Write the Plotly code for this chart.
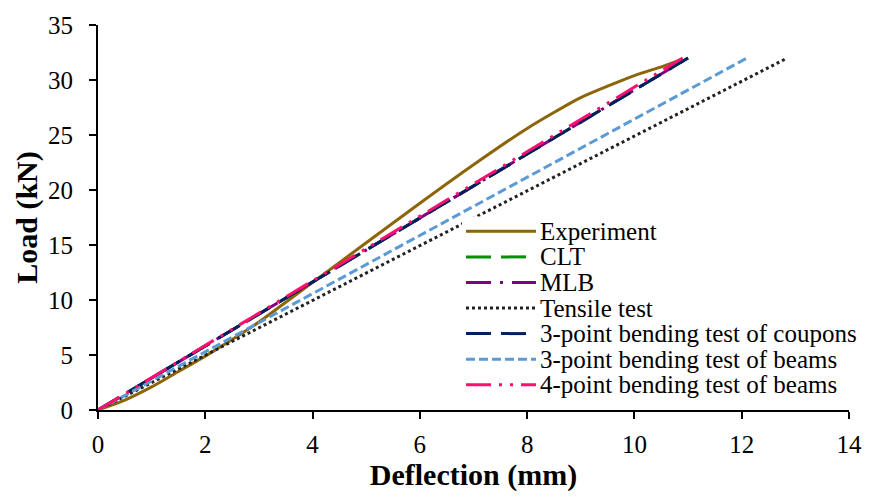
import plotly.graph_objects as go

# Load–deflection data (deflection in mm, load in kN)
exp_x = [0, 0.5, 1, 1.5, 2, 2.5, 3, 3.5, 4, 5, 6, 7, 8, 9, 10, 10.5, 10.9]
exp_y = [0, 0.9, 2.1, 3.5, 4.9, 6.4, 8.0, 9.8, 11.6, 15.2, 18.8, 22.3, 25.6, 28.4, 30.4, 31.2, 31.9]

clt_x = [0, 11.0]
clt_y = [0, 32.0]

mlb_x = [0, 11.0]
mlb_y = [0, 32.0]

tensile_x = [0, 12.85]
tensile_y = [0, 32.0]

coupons_x = [0, 11.0]
coupons_y = [0, 32.0]

beams3_x = [0, 12.1]
beams3_y = [0, 32.0]

beams4_x = [0, 10.9]
beams4_y = [0, 32.0]

x_ticks = [0, 2, 4, 6, 8, 10, 12, 14]
y_ticks = [0, 5, 10, 15, 20, 25, 30, 35]

series_names = [
    "Experiment",
    "CLT",
    "MLB",
    "Tensile test",
    "3-point bending test of coupons",
    "3-point bending test of beams",
    "4-point bending test of beams",
]
series_x = [exp_x, clt_x, mlb_x, tensile_x, coupons_x, beams3_x, beams4_x]
series_y = [exp_y, clt_y, mlb_y, tensile_y, coupons_y, beams3_y, beams4_y]
series_colors = ["#8B6508", "#009000", "#800080", "#222222", "#002060", "#5B9BD5", "#FF0F6E"]
series_dash = [
    "solid",
    "25px,10px",
    "25px,9px,3px,9px",
    "3px,3px",
    "25px,10px",
    "9px,4px",
    "25px,8px,3px,8px,3px,8px",
]
series_shape = ["spline", "linear", "linear", "linear", "linear", "linear", "linear"]

font_family = "Liberation Serif, Times New Roman, serif"

fig = go.Figure()
for name, xs, ys, color, dash, shp in zip(series_names, series_x, series_y,
                                          series_colors, series_dash, series_shape):
    fig.add_trace(go.Scatter(
        x=xs, y=ys, name=name, mode="lines", showlegend=False,
        line=dict(color=color, width=3, dash=dash, shape=shp, smoothing=0.6),
    ))

# Legend box drawn in paper coordinates: white panel, line samples, labels
plot_l, plot_r, plot_t, plot_b = 98, 849, 20, 410


def px_to_paper_x(px):
    return (px - plot_l) / (plot_r - plot_l)


def px_to_paper_y(py):
    return (plot_b - py) / (plot_b - plot_t)


leg_left, leg_right, leg_top, leg_bottom = 462, 874, 214, 399
row_y0, row_step = 229, 25.9
sample_x0, sample_x1, text_x = 466, 536, 539

shapes = [dict(
    type="rect", xref="paper", yref="paper", layer="above",
    x0=px_to_paper_x(leg_left), x1=px_to_paper_x(leg_right),
    y0=px_to_paper_y(leg_bottom), y1=px_to_paper_y(leg_top),
    fillcolor="white", line=dict(width=0),
)]
annotations = []
for i, (name, color, dash) in enumerate(zip(series_names, series_colors, series_dash)):
    yc = px_to_paper_y(row_y0 + i * row_step)
    shapes.append(dict(
        type="line", xref="paper", yref="paper", layer="above",
        x0=px_to_paper_x(sample_x0), x1=px_to_paper_x(sample_x1), y0=yc, y1=yc,
        line=dict(color=color, width=3, dash=dash),
    ))
    annotations.append(dict(
        xref="paper", yref="paper", x=px_to_paper_x(text_x), y=yc,
        xanchor="left", yanchor="middle", text=name, showarrow=False,
        borderpad=0,
        font=dict(family=font_family, size=25, color="black"),
    ))

fig.update_layout(
    width=881, height=496,
    margin=dict(l=plot_l, r=881 - plot_r, t=plot_t, b=496 - plot_b),
    paper_bgcolor="white", plot_bgcolor="white",
    font=dict(family=font_family, size=25, color="black"),
    showlegend=False,
    shapes=shapes,
    annotations=annotations,
    xaxis=dict(
        range=[0, 14], tickvals=x_ticks, ticktext=[str(v) for v in x_ticks],
        showline=True, linecolor="black", linewidth=2,
        ticks="outside", ticklen=7, tickwidth=2, tickcolor="black",
        showgrid=False, zeroline=False, ticklabelstandoff=4,
        title=dict(text="<b>Deflection (mm)</b>", font=dict(size=30), standoff=4),
        tickfont=dict(size=25),
    ),
    yaxis=dict(
        range=[0, 35], tickvals=y_ticks, ticktext=[str(v) for v in y_ticks],
        showline=True, linecolor="black", linewidth=2,
        ticks="outside", ticklen=7, tickwidth=2, tickcolor="black",
        showgrid=False, zeroline=False, ticklabelstandoff=11,
        title=dict(text="<b>Load (kN)</b>", font=dict(size=30), standoff=2),
        tickfont=dict(size=25),
    ),
)

fig.write_html("out.html")
